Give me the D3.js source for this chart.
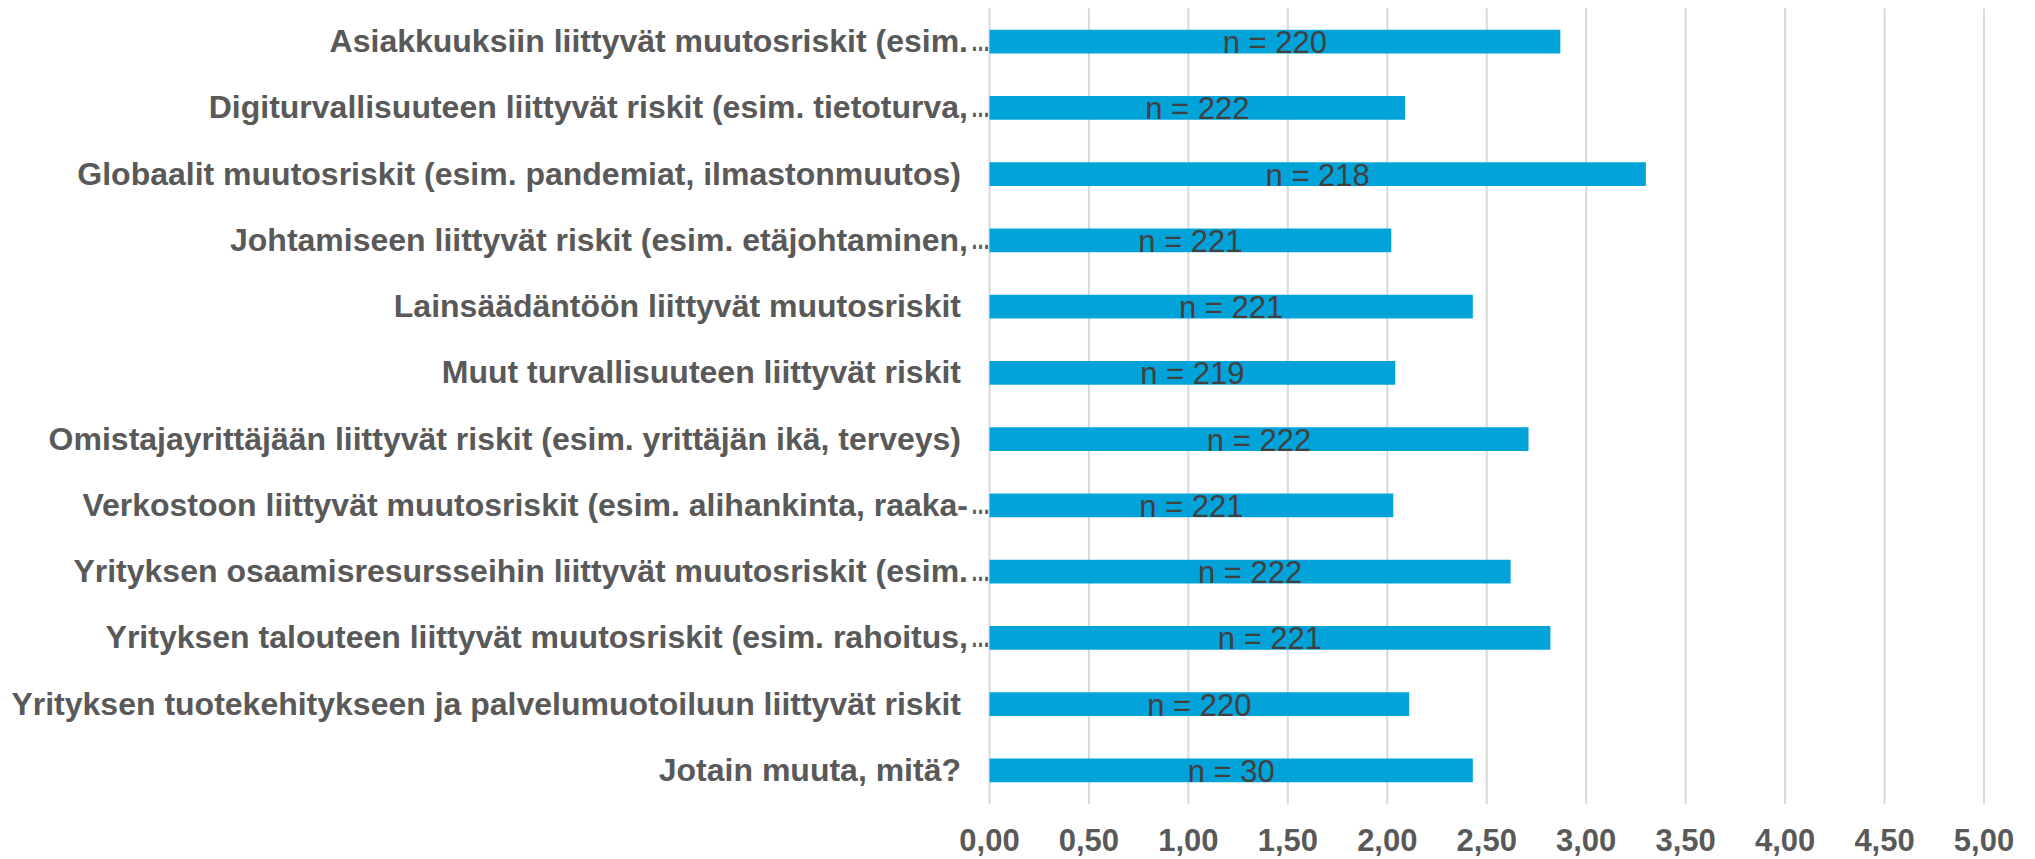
<!DOCTYPE html>
<html>
<head>
<meta charset="utf-8">
<script src="https://cdn.jsdelivr.net/npm/d3@7"></script>
<style>
  html, body { margin: 0; padding: 0; background: #ffffff; }
  svg { display: block; }
</style>
</head>
<body>
<svg id="chart" width="2035" height="859"></svg>
<script>
// Riskiluokat (lyhennetyt nimet näkyvät akselilla ellipsillä)
const categories = [
  "Asiakkuuksiin liittyvät muutosriskit (esim.…",
  "Digiturvallisuuteen liittyvät riskit (esim. tietoturva,…",
  "Globaalit muutosriskit (esim. pandemiat, ilmastonmuutos)",
  "Johtamiseen liittyvät riskit (esim. etäjohtaminen,…",
  "Lainsäädäntöön liittyvät muutosriskit",
  "Muut turvallisuuteen liittyvät riskit",
  "Omistajayrittäjään liittyvät riskit (esim. yrittäjän ikä, terveys)",
  "Verkostoon liittyvät muutosriskit (esim. alihankinta, raaka-…",
  "Yrityksen osaamisresursseihin liittyvät muutosriskit (esim.…",
  "Yrityksen talouteen liittyvät muutosriskit (esim. rahoitus,…",
  "Yrityksen tuotekehitykseen ja palvelumuotoiluun liittyvät riskit",
  "Jotain muuta, mitä?"
];

// Keskiarvot (asteikko 0–5)
const means = [2.87, 2.09, 3.30, 2.02, 2.43, 2.04, 2.71, 2.03, 2.62, 2.82, 2.11, 2.43];

// Vastaajamäärät
const counts = [220, 222, 218, 221, 221, 219, 222, 221, 222, 221, 220, 30];

// Vaaka-akselin jaot
const tickValues = [0, 0.5, 1, 1.5, 2, 2.5, 3, 3.5, 4, 4.5, 5];

const rows = categories.map((c, i) => ({ label: c, value: means[i], n: counts[i] }));

const svg = d3.select("#chart");

const x = d3.scaleLinear().domain([0, 5]).range([989.5, 1984]);
const y = d3.scaleBand()
  .domain(categories)
  .range([8.5, 803.5])
  .paddingInner(0.642)
  .paddingOuter(0.321);

const fi = d3.formatLocale({ decimal: ",", thousands: "\u00a0", grouping: [3], currency: ["", " €"] });
const fmt = fi.format(".2f");

// Pystysuorat apuviivat
svg.append("g")
  .selectAll("line")
  .data(tickValues)
  .join("line")
  .attr("x1", d => x(d))
  .attr("x2", d => x(d))
  .attr("y1", 8.3)
  .attr("y2", 804.3)
  .attr("stroke", "#D9D9D9")
  .attr("stroke-width", 2);

// Pylväät
svg.append("g")
  .selectAll("rect")
  .data(rows)
  .join("rect")
  .attr("x", x(0))
  .attr("y", d => y(d.label))
  .attr("width", d => x(d.value) - x(0))
  .attr("height", y.bandwidth())
  .attr("fill", "#02A3D9");

// n-merkinnät pylväiden keskelle
svg.append("g")
  .selectAll("text")
  .data(rows)
  .join("text")
  .attr("x", d => (x(0) + x(d.value)) / 2)
  .attr("y", d => y(d.label) + y.bandwidth() / 2)
  .attr("dy", "0.37em")
  .attr("text-anchor", "middle")
  .attr("font-family", "'Liberation Sans', Arial, sans-serif")
  .attr("font-size", 31)
  .attr("fill", "#404040")
  .text(d => "n = " + d.n);

// Luokkien nimet
const catG = svg.append("g")
  .attr("font-family", "'Liberation Sans', Arial, sans-serif")
  .attr("font-weight", "bold")
  .attr("font-size", 32)
  .attr("fill", "#595959");

rows.forEach(d => {
  const cy = y(d.label) + y.bandwidth() / 2;
  const truncated = d.label.endsWith("…");
  if (truncated) {
    const body = d.label.slice(0, -1);
    catG.append("text")
      .attr("x", 968)
      .attr("y", cy)
      .attr("dy", "0.33em")
      .attr("text-anchor", "end")
      .text(body);
    catG.append("text")
      .attr("x", 971)
      .attr("y", cy)
      .attr("dy", "0.33em")
      .attr("text-anchor", "start")
      .attr("font-size", 27)
      .attr("textLength", 19)
      .attr("lengthAdjust", "spacingAndGlyphs")
      .text("…");
  } else {
    catG.append("text")
      .attr("x", 961)
      .attr("y", cy)
      .attr("dy", "0.33em")
      .attr("text-anchor", "end")
      .text(d.label);
  }
});

// Vaaka-akselin luvut
svg.append("g")
  .attr("font-family", "'Liberation Sans', Arial, sans-serif")
  .attr("font-weight", "bold")
  .attr("font-size", 31)
  .attr("fill", "#595959")
  .selectAll("text")
  .data(tickValues)
  .join("text")
  .attr("x", d => x(d))
  .attr("y", 851)
  .attr("text-anchor", "middle")
  .text(d => fmt(d));
</script>
</body>
</html>
